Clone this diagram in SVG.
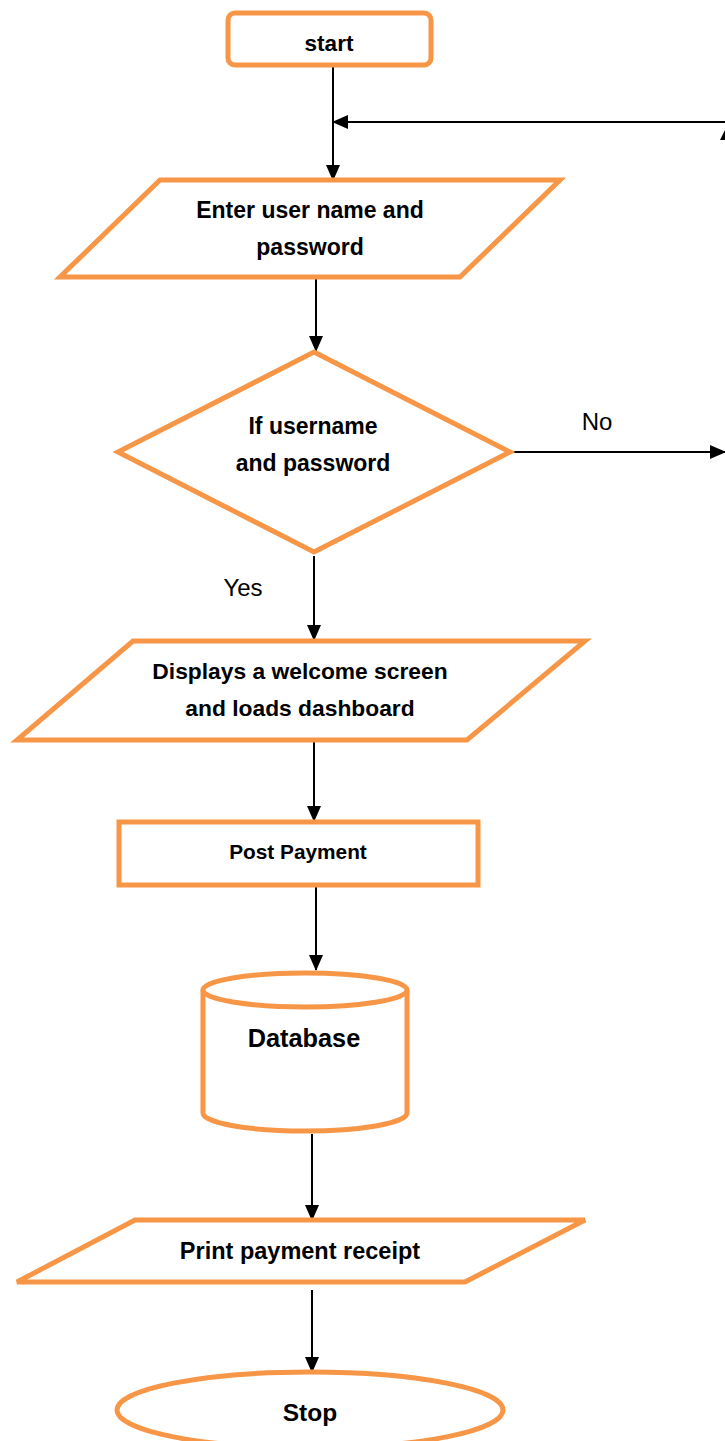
<svg xmlns="http://www.w3.org/2000/svg" width="725" height="1441" viewBox="0 0 725 1441">
  <style>
    .shape { fill: #ffffff; stroke: #F79646; stroke-width: 5; stroke-linejoin: miter; }
    .lbl { font-family: "Liberation Sans", Arial, sans-serif; font-weight: bold; fill: #000000; text-anchor: middle; }
    .note { font-family: "Liberation Sans", Arial, sans-serif; fill: #000000; text-anchor: middle; }
    .conn { stroke: #000000; stroke-width: 2; fill: none; }
  </style>
  <defs>
    <marker id="arrow" markerUnits="userSpaceOnUse" markerWidth="16" markerHeight="14" refX="15" refY="7" orient="auto">
      <path d="M0,0 L16,7 L0,14 Z" fill="#000000"/>
    </marker>
  </defs>

  <rect width="725" height="1441" fill="#ffffff"/>

  <!-- connectors -->
  <g id="connectors">
    <line class="conn" x1="333" y1="66" x2="333" y2="180" marker-end="url(#arrow)"/>
    <line class="conn" x1="725" y1="122" x2="333" y2="122" marker-end="url(#arrow)"/>
    <polygon points="727,126 720,140 734,140" fill="#000000"/>
    <line class="conn" x1="316" y1="279" x2="316" y2="351" marker-end="url(#arrow)"/>
    <line class="conn" x1="510" y1="452" x2="725" y2="452" marker-end="url(#arrow)"/>
    <line class="conn" x1="314" y1="556" x2="314" y2="640" marker-end="url(#arrow)"/>
    <line class="conn" x1="314" y1="741" x2="314" y2="821" marker-end="url(#arrow)"/>
    <line class="conn" x1="316" y1="886" x2="316" y2="970" marker-end="url(#arrow)"/>
    <line class="conn" x1="312" y1="1134" x2="312" y2="1220" marker-end="url(#arrow)"/>
    <line class="conn" x1="312" y1="1290" x2="312" y2="1372" marker-end="url(#arrow)"/>
    <text class="note" x="597" y="430" font-size="24">No</text>
    <text class="note" x="243" y="596" font-size="24">Yes</text>
  </g>

  <g id="start">
    <rect class="shape" x="228" y="13" width="203" height="52" rx="7"/>
    <text class="lbl" x="329" y="51" font-size="22.5">start</text>
  </g>

  <g id="enter-credentials">
    <polygon class="shape" points="160,180 560,180 460,277 60,277"/>
    <text class="lbl" x="310" y="218" font-size="23">Enter user name and</text>
    <text class="lbl" x="310" y="255" font-size="23">password</text>
  </g>

  <g id="check-credentials">
    <polygon class="shape" points="314,352 510,452 314,552 118,452"/>
    <text class="lbl" x="313" y="434" font-size="23">If username</text>
    <text class="lbl" x="313" y="471" font-size="23">and password</text>
  </g>

  <g id="welcome">
    <polygon class="shape" points="133,641 585,641 467,740 17,740"/>
    <text class="lbl" x="300" y="679" font-size="22.8">Displays a welcome screen</text>
    <text class="lbl" x="300" y="716" font-size="22.8">and loads dashboard</text>
  </g>

  <g id="post-payment">
    <rect class="shape" x="119" y="822" width="359" height="63"/>
    <text class="lbl" x="298" y="859" font-size="20.8">Post Payment</text>
  </g>

  <g id="database">
    <path class="shape" d="M203,990 L203,1113 A102,18 0 0 0 407,1113 L407,990"/>
    <ellipse class="shape" cx="305" cy="990" rx="102" ry="17"/>
    <text class="lbl" x="304" y="1047" font-size="25.3">Database</text>
  </g>

  <g id="print-receipt">
    <polygon class="shape" points="135,1220 585,1220 465,1282 17,1282"/>
    <text class="lbl" x="300" y="1259" font-size="23.5">Print payment receipt</text>
  </g>

  <g id="stop">
    <ellipse class="shape" cx="310" cy="1410" rx="193" ry="38"/>
    <text class="lbl" x="310" y="1421" font-size="24.5">Stop</text>
  </g>
</svg>
